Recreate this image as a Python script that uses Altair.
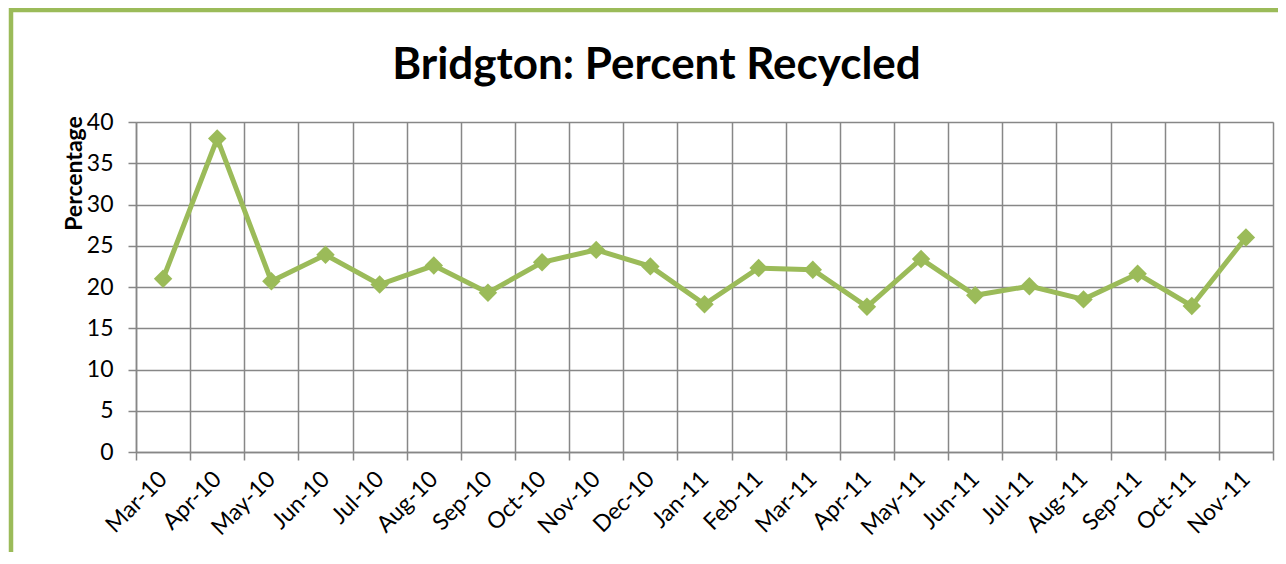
import altair as alt
import pandas as pd

months = ["Mar-10", "Apr-10", "May-10", "Jun-10", "Jul-10", "Aug-10", "Sep-10",
          "Oct-10", "Nov-10", "Dec-10", "Jan-11", "Feb-11", "Mar-11", "Apr-11",
          "May-11", "Jun-11", "Jul-11", "Aug-11", "Sep-11", "Oct-11", "Nov-11"]
percent = [21.0, 38.0, 20.7, 23.9, 20.3, 22.6, 19.3,
           23.0, 24.5, 22.5, 17.9, 22.3, 22.1, 17.6,
           23.4, 19.0, 20.1, 18.5, 21.6, 17.7, 26.0]
y_ticks = [0, 5, 10, 15, 20, 25, 30, 35, 40]

df = pd.DataFrame({"Month": months, "Percent": percent})

GREEN = "#9BBB59"
GRID = "#878787"
FONT = "Lato"

x_enc = alt.X(
    "Month:N", sort=months, title=None,
    scale=alt.Scale(type="band", paddingInner=0, paddingOuter=0),
    axis=alt.Axis(
        tickBand="extent", grid=True, gridColor=GRID, gridWidth=1.5,
        domainColor=GRID, domainWidth=1.5, tickColor=GRID, tickWidth=1.5,
        tickSize=8, labelAngle=-45, labelAlign="right", labelBaseline="middle",
        labelPadding=15, labelFont=FONT, labelFontSize=23, labelColor="#000000",
    ),
)
y_enc = alt.Y(
    "Percent:Q",
    scale=alt.Scale(domain=[0, 40], nice=False, zero=True),
    axis=alt.Axis(
        values=y_ticks, grid=True, gridColor=GRID, gridWidth=1.5,
        domainColor=GRID, domainWidth=1.5, tickColor=GRID, tickWidth=1.5,
        tickSize=8, labelPadding=15, labelFont=FONT, labelFontSize=23,
        labelColor="#000000",
        title="Percentage", titleFont=FONT, titleFontSize=23, titleFontWeight="bold",
        titleColor="#000000", titleAnchor="start", titleAngle=-90,
        titleX=-62, titleY=51, titleAlign="center", titleBaseline="middle",
    ),
)

line = alt.Chart(df).mark_line(
    color=GREEN, strokeWidth=5,
    point=alt.OverlayMarkDef(shape="diamond", size=340, color=GREEN, filled=True, opacity=1),
).encode(x=x_enc, y=y_enc)

border = alt.Chart(alt.Data(values=[{"a": 1}])).mark_rect(
    fill="transparent", stroke=GREEN, strokeWidth=4.5,
).encode(
    x=alt.value(-125), x2=alt.value(1300), y=alt.value(-112), y2=alt.value(600)
)

chart = alt.layer(line, border).properties(
    width=1137, height=330,
    autosize=alt.AutoSizeParams(type="none"),
    padding={"left": 128, "top": 114, "right": 5, "bottom": 100},
    title=alt.TitleParams(
        "Bridgton: Percent Recycled", font=FONT, fontSize=44, fontWeight="bold",
        color="#000000", anchor="middle", frame="group", dx=-48, offset=34, dy=114,
    ),
).configure_view(stroke=None).configure(background="white")

chart.save("out.html", embed_options={"renderer": "svg", "actions": False})
